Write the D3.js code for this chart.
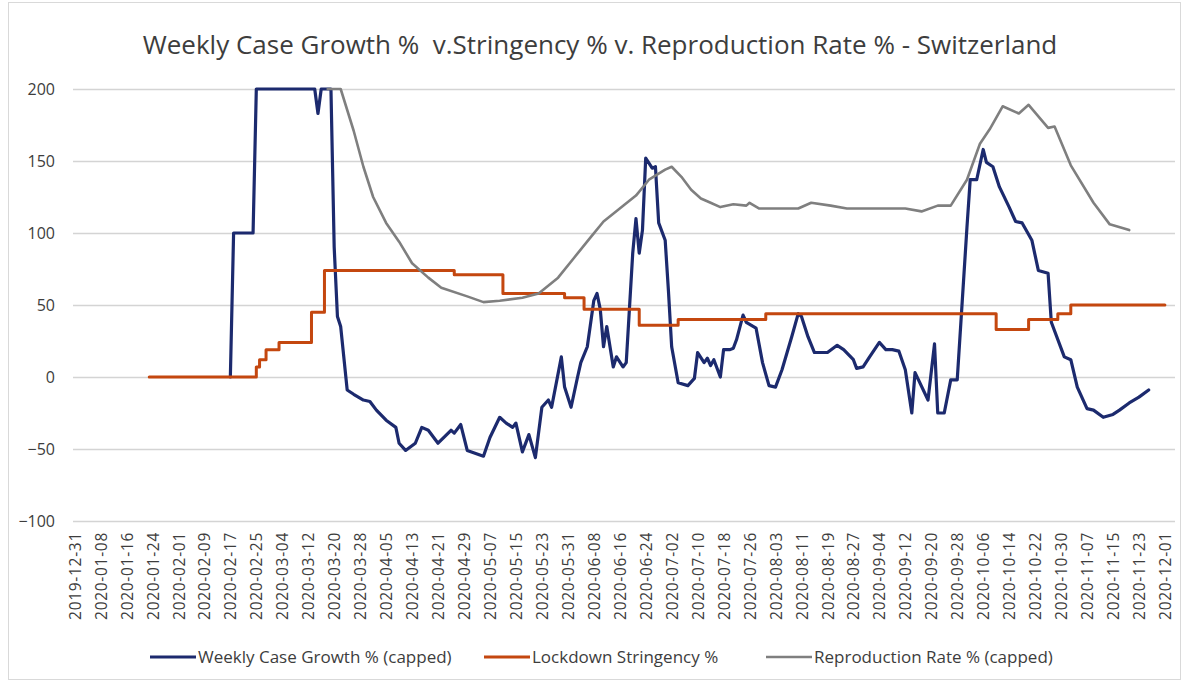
<!DOCTYPE html>
<html>
<head>
<meta charset="utf-8">
<script src="https://cdn.jsdelivr.net/npm/d3@7"></script>
<style>
  body { margin: 0; background: #fff; }
  svg text { font-family: "Open Sans", "DejaVu Sans", sans-serif; fill: #3d3d3d; }
</style>
</head>
<body>
<svg id="chart" width="1189" height="682"></svg>
<script>
// ---- Axis tick labels (every 8 days) ----
const xTickLabels = [
  "2019-12-31","2020-01-08","2020-01-16","2020-01-24","2020-02-01","2020-02-09",
  "2020-02-17","2020-02-25","2020-03-04","2020-03-12","2020-03-20","2020-03-28",
  "2020-04-05","2020-04-13","2020-04-21","2020-04-29","2020-05-07","2020-05-15",
  "2020-05-23","2020-05-31","2020-06-08","2020-06-16","2020-06-24","2020-07-02",
  "2020-07-10","2020-07-18","2020-07-26","2020-08-03","2020-08-11","2020-08-19",
  "2020-08-27","2020-09-04","2020-09-12","2020-09-20","2020-09-28","2020-10-06",
  "2020-10-14","2020-10-22","2020-10-30","2020-11-07","2020-11-15","2020-11-23",
  "2020-12-01"
];
const yTickValues = [200, 150, 100, 50, 0, -50, -100];

// ---- Weekly case growth % (capped at 200) ----
const growthDates = [
  "2020-02-17","2020-02-18","2020-02-24","2020-02-25","2020-03-14","2020-03-15","2020-03-16",
  "2020-03-19","2020-03-20","2020-03-21","2020-03-22","2020-03-24","2020-03-26","2020-03-29",
  "2020-03-31","2020-04-02","2020-04-05","2020-04-08","2020-04-09","2020-04-11","2020-04-14",
  "2020-04-16","2020-04-18","2020-04-21","2020-04-25","2020-04-26","2020-04-28","2020-04-30",
  "2020-05-05","2020-05-07","2020-05-10","2020-05-12","2020-05-14","2020-05-15","2020-05-17",
  "2020-05-19","2020-05-21","2020-05-23","2020-05-25","2020-05-26","2020-05-29","2020-05-30",
  "2020-06-01","2020-06-03","2020-06-04","2020-06-06","2020-06-08","2020-06-09","2020-06-10",
  "2020-06-11","2020-06-12","2020-06-14","2020-06-15","2020-06-17","2020-06-18","2020-06-20",
  "2020-06-21","2020-06-22","2020-06-23","2020-06-24","2020-06-26","2020-06-27","2020-06-28",
  "2020-06-30","2020-07-01","2020-07-02","2020-07-04","2020-07-07","2020-07-09","2020-07-10",
  "2020-07-12","2020-07-13","2020-07-14","2020-07-15","2020-07-17","2020-07-18","2020-07-20",
  "2020-07-21","2020-07-22","2020-07-24","2020-07-25","2020-07-28","2020-07-30","2020-08-01",
  "2020-08-03","2020-08-05","2020-08-08","2020-08-10","2020-08-11","2020-08-13","2020-08-15",
  "2020-08-19","2020-08-22","2020-08-24","2020-08-27","2020-08-28","2020-08-30","2020-09-01",
  "2020-09-04","2020-09-06","2020-09-08","2020-09-10","2020-09-12","2020-09-14","2020-09-15",
  "2020-09-19","2020-09-21","2020-09-22","2020-09-24","2020-09-26","2020-09-28","2020-10-01",
  "2020-10-02","2020-10-04","2020-10-06","2020-10-07","2020-10-09","2020-10-11","2020-10-14",
  "2020-10-16","2020-10-18","2020-10-21","2020-10-23","2020-10-26","2020-10-27","2020-10-31",
  "2020-11-02","2020-11-04","2020-11-07","2020-11-09","2020-11-12","2020-11-15","2020-11-17",
  "2020-11-20","2020-11-23","2020-11-26"
];
const growthValues = [
  0, 100, 100, 200, 200, 183, 200,
  200, 90, 42, 35, -9, -12, -16,
  -17, -23, -30, -35, -46, -51, -46,
  -35, -37, -46, -37, -39, -33, -51,
  -55, -42, -28, -32, -35, -32, -52,
  -40, -56, -21, -16, -21, 14, -7,
  -21, 0, 10, 21, 53, 58, 47,
  21, 35, 7, 14, 7, 10, 86,
  110, 86, 102, 152, 145, 146, 107,
  95, 60, 21, -4, -6, -1, 17,
  10, 13, 8, 12, 0, 19, 19,
  20, 26, 43, 38, 34, 10, -6,
  -7, 5, 28, 44, 42, 28, 17,
  17, 22, 19, 12, 6, 7, 14,
  24, 19, 19, 18, 5, -25, 3,
  -16, 23, -25, -25, -2, -2, 104,
  137, 137, 158, 149, 146, 132, 118,
  108, 107, 95, 74, 72, 38, 14,
  12, -7, -22, -23, -28, -26, -23,
  -18, -14, -9
];

// ---- Lockdown stringency % (value holds until the next date) ----
const stringencyDates = [
  "2020-01-23","2020-02-25","2020-02-26","2020-02-28","2020-03-03","2020-03-13","2020-03-17",
  "2020-04-26","2020-05-11","2020-05-30","2020-06-05","2020-06-22","2020-07-04","2020-07-31",
  "2020-10-10","2020-10-20","2020-10-29","2020-11-02","2020-12-01"
];
const stringencyValues = [
  0, 7, 12, 19, 24, 45, 74,
  71, 58, 55, 47, 36, 40, 44,
  33, 40, 44, 50, 50
];

// ---- Reproduction rate % (capped at 200) ----
const reproDates = [
  "2020-03-18","2020-03-22","2020-03-26","2020-03-29","2020-04-01","2020-04-05","2020-04-09",
  "2020-04-13","2020-04-18","2020-04-22","2020-04-30","2020-05-05","2020-05-10","2020-05-17",
  "2020-05-22","2020-05-28","2020-06-02","2020-06-07","2020-06-11","2020-06-16","2020-06-21",
  "2020-06-25","2020-06-30","2020-07-02","2020-07-05","2020-07-08","2020-07-11","2020-07-14",
  "2020-07-17","2020-07-21","2020-07-25","2020-07-26","2020-07-29","2020-08-10","2020-08-14",
  "2020-08-20","2020-08-25","2020-09-12","2020-09-17","2020-09-22","2020-09-26","2020-10-01",
  "2020-10-05","2020-10-08","2020-10-12","2020-10-17","2020-10-20","2020-10-26","2020-10-28",
  "2020-11-02","2020-11-09","2020-11-14","2020-11-20"
];
const reproValues = [
  200, 200, 171, 146, 125, 107, 94,
  79, 69, 62, 56, 52, 53, 55,
  58, 69, 83, 97, 108, 117, 126,
  137, 144, 146, 139, 130, 124, 121,
  118, 120, 119, 121, 117, 117, 121,
  119, 117, 117, 115, 119, 119, 137,
  162, 172, 188, 183, 189, 173, 174,
  147, 121, 106, 102
];

// ---- Drawing ----
const parse = d3.utcParse("%Y-%m-%d");
const zip = (ds, vs) => ds.map((d, i) => ({ date: parse(d), value: vs[i] }));

const svg = d3.select("#chart");
const W = 1189, H = 682;
const plot = { left: 73, right: 1175, top: 89, bottom: 521 };

// Outer chart frame
svg.append("rect")
  .attr("x", 8.5).attr("y", 2.5).attr("width", W - 17).attr("height", H - 5)
  .attr("fill", "#fff").attr("stroke", "#d9d9d9").attr("stroke-width", 1);

const x = d3.scaleUtc()
  .domain([parse(xTickLabels[0]), parse(xTickLabels[xTickLabels.length - 1])])
  .range([74.6, 1164.9]);
const y = d3.scaleLinear().domain([-100, 200]).range([plot.bottom, plot.top]);

// Horizontal gridlines + value labels
const yAxis = svg.append("g")
  .attr("transform", `translate(${plot.left},0)`)
  .call(d3.axisLeft(y).tickValues(yTickValues).tickSize(-(plot.right - plot.left)).tickPadding(18));
yAxis.select(".domain").remove();
yAxis.selectAll(".tick line").attr("stroke", "#d4d4d4").attr("stroke-width", 1.6);
yAxis.selectAll(".tick text").attr("font-size", 16).attr("fill", "#3d3d3d");

// Date labels, rotated
const xAxis = svg.append("g")
  .attr("transform", `translate(0,${plot.bottom + 11})`)
  .call(d3.axisBottom(x).tickValues(xTickLabels.map(parse))
    .tickFormat(d3.utcFormat("%Y-%m-%d")).tickSize(0));
xAxis.select(".domain").remove();
xAxis.selectAll(".tick text")
  .attr("font-size", 15.5)
  .attr("letter-spacing", "0.7px")
  .attr("fill", "#3d3d3d")
  .attr("text-anchor", "end")
  .attr("transform", "rotate(-90)")
  .attr("x", 0).attr("y", 0).attr("dy", "0.36em");

const line = d3.line().x(d => x(d.date)).y(d => y(d.value));
const stepLine = d3.line().x(d => x(d.date)).y(d => y(d.value)).curve(d3.curveStepAfter);

const series = [
  { name: "Weekly Case Growth % (capped)", data: zip(growthDates, growthValues), color: "#1c2a6e", width: 3.2, gen: line },
  { name: "Lockdown Stringency %", data: zip(stringencyDates, stringencyValues), color: "#c4470f", width: 3, gen: stepLine },
  { name: "Reproduction Rate % (capped)", data: zip(reproDates, reproValues), color: "#7f7f7f", width: 2.6, gen: line }
];

series.forEach(s => {
  svg.append("path")
    .datum(s.data)
    .attr("d", s.gen)
    .attr("fill", "none")
    .attr("stroke", s.color)
    .attr("stroke-width", s.width)
    .attr("stroke-linejoin", "round")
    .attr("stroke-linecap", "round");
});

// Title, scaled to span its width
const title = svg.append("text")
  .attr("x", 600).attr("y", 54)
  .attr("text-anchor", "middle")
  .attr("font-size", 22)
  .attr("fill", "#404040")
  .text("Weekly Case Growth %  v.Stringency % v. Reproduction Rate % - Switzerland")
  .style("white-space", "pre");
const tw = title.node().getComputedTextLength();
title.attr("font-size", 22 * 915 / tw);

// Legend
const legendY = 657;
const legendX = [150, 484, 766];
series.forEach((s, i) => {
  const g = svg.append("g").attr("transform", `translate(${legendX[i]},${legendY})`);
  g.append("line").attr("x1", 0).attr("x2", 46).attr("y1", 0).attr("y2", 0)
    .attr("stroke", s.color).attr("stroke-width", s.width);
  g.append("text").attr("x", 48).attr("y", 0).attr("dy", "0.35em")
    .attr("font-size", 17).attr("fill", "#3d3d3d").text(s.name);
});
</script>
</body>
</html>
